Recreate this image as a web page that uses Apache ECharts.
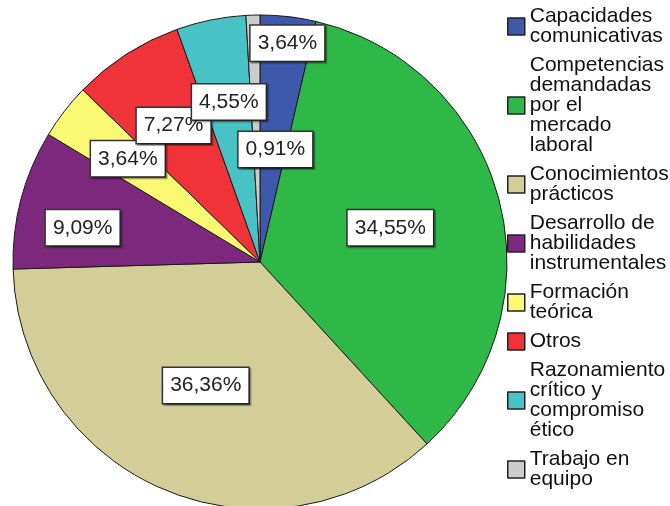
<!DOCTYPE html>
<html>
<head>
<meta charset="utf-8">
<title>Pie</title>
<script src="https://cdn.jsdelivr.net/npm/echarts@6/dist/echarts.min.js"></script>
<style>
  html, body { margin: 0; padding: 0; background: #fff; }
  #main { width: 670px; height: 506px; }
</style>
</head>
<body>
<div id="main"></div>
<script>
// categories (legend text, wrapped as in the original)
const categories = [
  'Capacidades\ncomunicativas',
  'Competencias\ndemandadas\npor el\nmercado\nlaboral',
  'Conocimientos\nprácticos',
  'Desarrollo de\nhabilidades\ninstrumentales',
  'Formación\nteórica',
  'Otros',
  'Razonamiento\ncrítico y\ncompromiso\nético',
  'Trabajo en\nequipo'
]
// counts (n = 110)
const counts = [4, 38, 40, 10, 4, 8, 5, 1]
const colors = ['#3E58AC', '#2EB848', '#D3CE97', '#7C287D', '#FBF873', '#EF3338', '#48C2C5', '#CCCCCC']

// nudges for the percentage boxes, relative to the default inside position
const labelNudge = [
  [13, -93], [8, -2], [-5, 7], [-55, -2],
  [-32, -26], [-18, -30], [-6, -36], [19, 14]
]

const total = counts.reduce((a, b) => a + b, 0)
const FONT = '"Liberation Sans", Arial, sans-serif'

const chart = echarts.init(document.getElementById('main'))

const option = {
  animation: false,
  color: colors,
  legend: {
    orient: 'vertical',
    left: 507,
    top: 6,
    height: 560,
    padding: 0,
    icon: 'rect',
    itemWidth: 17,
    itemHeight: 17,
    itemGap: 8,
    itemStyle: {
      borderColor: '#222',
      borderWidth: 1.5
    },
    textStyle: {
      fontFamily: FONT,
      fontSize: 21,
      lineHeight: 20,
      color: '#111'
    },
    data: categories
  },
  series: [
    {
      type: 'pie',
      center: [260, 262],
      radius: 247,
      startAngle: 90,
      clockwise: true,
      silent: true,
      itemStyle: {
        borderColor: '#1a1a1a',
        borderWidth: 1
      },
      label: {
        show: true,
        position: 'inside',
        overflow: 'none',
        fontFamily: FONT,
        fontSize: 21,
        lineHeight: 24,
        color: '#222',
        backgroundColor: '#fff',
        borderColor: '#333',
        borderWidth: 1.5,
        padding: [6, 7, 5, 7],
        shadowColor: 'rgba(0,0,0,0.35)',
        shadowOffsetX: 1.5,
        shadowOffsetY: 1.5,
        shadowBlur: 1,
        formatter: (p) => ((p.value / total) * 100).toFixed(2).replace('.', ',') + '%'
      },
      labelLine: { show: false },
      labelLayout: (params) => {
        const n = labelNudge[params.dataIndex]
        return { dx: n[0], dy: n[1] }
      },
      data: categories.map((name, i) => {
        return { name: name, value: counts[i] }
      })
    }
  ]
}

chart.setOption(option)
</script>
</body>
</html>
